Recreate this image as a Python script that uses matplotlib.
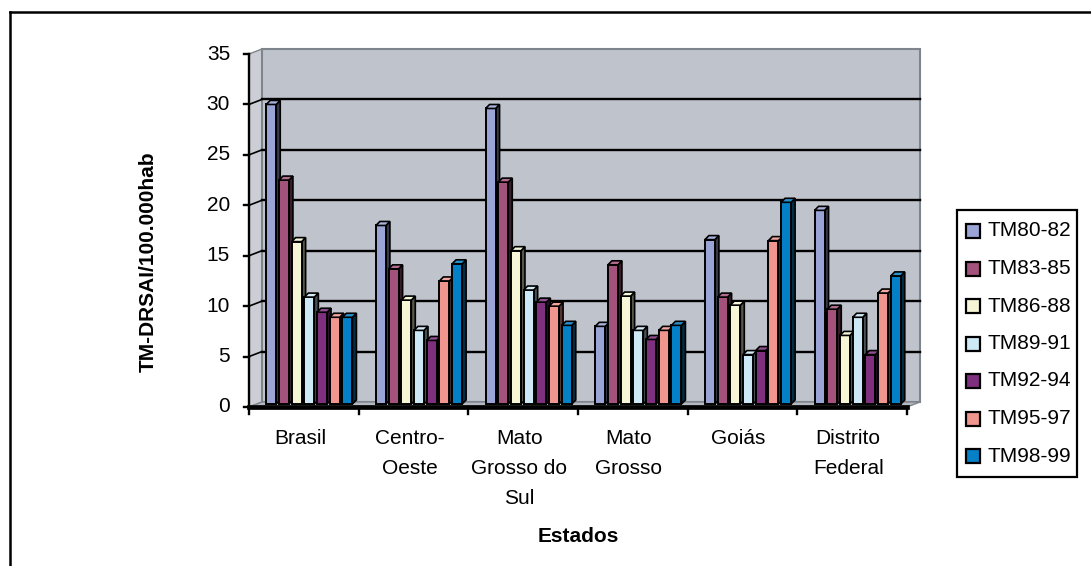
import matplotlib
matplotlib.use("Agg")
import matplotlib.pyplot as plt
from matplotlib.patches import Polygon, Rectangle
from matplotlib.lines import Line2D
from matplotlib.colors import to_rgb

plt.rcParams['font.family'] = ['Liberation Sans', 'DejaVu Sans']

# ---- data ----
estados = ["Brasil", "Centro-\nOeste", "Mato\nGrosso do\nSul", "Mato\nGrosso",
           "Goiás", "Distrito\nFederal"]
periodos = ["TM80-82", "TM83-85", "TM86-88", "TM89-91", "TM92-94", "TM95-97", "TM98-99"]
tm80_82 = [29.7, 17.7, 29.3, 7.7, 16.3, 19.2]
tm83_85 = [22.2, 13.4, 22.0, 13.8, 10.6, 9.4]
tm86_88 = [16.1, 10.3, 15.2, 10.7, 9.8, 6.8]
tm89_91 = [10.6, 7.3, 11.3, 7.3, 4.9, 8.6]
tm92_94 = [9.1, 6.3, 10.1, 6.4, 5.3, 4.9]
tm95_97 = [8.6, 12.2, 9.7, 7.3, 16.2, 11.0]
tm98_99 = [8.6, 13.9, 7.8, 7.8, 20.0, 12.7]
series = [tm80_82, tm83_85, tm86_88, tm89_91, tm92_94, tm95_97, tm98_99]
y_ticks = [0, 5, 10, 15, 20, 25, 30, 35]

colors = ["#9AA5D6", "#A3527B", "#F6F5D6", "#CDE9F5", "#7E2F7E", "#F0968F", "#0480C6"]
wall_color = "#BFC3CB"
wall_edge = "#7F858D"
FS = 15

# ---- figure ----
W, H = 1091, 566
fig = plt.figure(figsize=(W / 100, H / 100), dpi=100)
ax = fig.add_axes([249 / W, 1 - 407 / H, (907 - 249) / W, (407 - 54) / H])
ax.set_xlim(0, len(estados))
ax.set_ylim(0, 35)
ax.axis('off')

# pixel -> data unit conversion
p0 = ax.transData.transform((0, 0))
p1 = ax.transData.transform((1, 1))
sx, sy = p1[0] - p0[0], p1[1] - p0[1]


def px(dx=0.0, dy=0.0):
    return dx / sx, dy / sy


n_cat = len(estados)
ymax = y_ticks[-1]
wdx, wdy = px(13, 5)

# side wall, back wall, floor
ax.add_patch(Polygon([(0, 0), (wdx, wdy), (wdx, ymax + wdy), (0, ymax)],
                     closed=True, fc="#CBCED4", ec=wall_edge, lw=1.0, clip_on=False, zorder=1))
ax.add_patch(Polygon([(wdx, wdy), (n_cat + wdx, wdy), (n_cat + wdx, ymax + wdy), (wdx, ymax + wdy)],
                     closed=True, fc=wall_color, ec=wall_edge, lw=1.5, clip_on=False, zorder=1))
ax.add_patch(Polygon([(0, 0), (n_cat, 0), (n_cat + wdx, wdy), (wdx, wdy)],
                     closed=True, fc="#B4B8C0", ec=wall_edge, lw=1.0, clip_on=False, zorder=2))

# gridlines on back and side wall
for v in y_ticks[1:-1]:
    ax.add_line(Line2D([wdx, n_cat + wdx], [v + wdy, v + wdy], color="black", lw=1.7,
                       clip_on=False, zorder=2))
    ax.add_line(Line2D([0, wdx], [v, v + wdy], color="black", lw=1.2, clip_on=False, zorder=2))


def lighten(c, f):
    r, g, b = to_rgb(c)
    return (r + (1 - r) * f, g + (1 - g) * f, b + (1 - b) * f)


def darken(c, f):
    r, g, b = to_rgb(c)
    return (r * f, g * f, b * f)


# 3D-looking columns
pitch = 12.7
bw = 10.0
bar_shift = 5.5
base_dy = 3.0
cdx, cdy = px(4, 4)
w_d, _ = px(bw, 0)
_, base = px(0, base_dy)
n_ser = len(series)
for g in range(n_cat):
    for i, (vals, col) in enumerate(zip(series, colors)):
        v = vals[g]
        cx = g + 0.5 + px(bar_shift + (i - (n_ser - 1) / 2) * pitch)[0]
        x0 = cx - w_d / 2
        x1 = x0 + w_d
        top = v + base
        ax.add_patch(Polygon([(x1, base), (x1 + cdx, base + cdy), (x1 + cdx, top + cdy), (x1, top)],
                             closed=True, fc=darken(col, 0.35), ec="black", lw=1.2,
                             clip_on=False, zorder=3))
        ax.add_patch(Polygon([(x0, base), (x1, base), (x1, top), (x0, top)],
                             closed=True, fc=col, ec="black", lw=1.4, clip_on=False, zorder=3))
        ax.add_patch(Polygon([(x0, top), (x1, top), (x1 + cdx, top + cdy), (x0 + cdx, top + cdy)],
                             closed=True, fc=lighten(col, 0.15), ec="black", lw=1.2,
                             clip_on=False, zorder=3))

# axes lines and ticks
tlx, _ = px(5, 0)
_, tly = px(0, 7)
ax.add_line(Line2D([0, 0], [0, ymax], color="black", lw=1.7, clip_on=False, zorder=5))
ax.add_line(Line2D([0, n_cat], [0, 0], color="black", lw=3.4, clip_on=False, zorder=5))
for v in y_ticks:
    ax.add_line(Line2D([-tlx, 0], [v, v], color="black", lw=1.7, clip_on=False, zorder=5))
    ax.text(-px(19)[0], v, str(v), ha="right", va="center", fontsize=FS, clip_on=False)
for g in range(n_cat + 1):
    ax.add_line(Line2D([g, g], [0, -tly], color="black", lw=1.7, clip_on=False, zorder=5))

for g, name in enumerate(estados):
    ax.text(g + 0.5 - px(4)[0], -px(0, 22)[1], name, ha="center", va="top", fontsize=FS,
            linespacing=1.75, clip_on=False)

# titles
fig.text(148 / W, 1 - 262 / H, "TM-DRSAI/100.000hab", rotation=90, ha="center", va="center",
         fontsize=FS, fontweight="bold")
fig.text(578 / W, 1 - 536 / H, "Estados", ha="center", va="center", fontsize=FS,
         fontweight="bold")

# legend
fig.add_artist(Rectangle((957 / W, 1 - 477 / H), 120 / W, 267 / H, transform=fig.transFigure,
                         fc="white", ec="black", lw=1.6))
for i, (lab, col) in enumerate(zip(periodos, colors)):
    yc = 231 + 37.5 * i
    fig.add_artist(Rectangle((966 / W, 1 - (yc + 7) / H), 14 / W, 14 / H,
                             transform=fig.transFigure, fc=col, ec="black", lw=1.6))
    fig.text(987 / W, 1 - yc / H, lab, ha="left", va="center", fontsize=FS)

# outer frame
fig.add_artist(Line2D([10 / W, 10 / W], [0, 1 - 12 / H], transform=fig.transFigure,
                      color="black", lw=1.8))
fig.add_artist(Line2D([10 / W, 1], [1 - 12 / H, 1 - 12 / H], transform=fig.transFigure,
                      color="black", lw=1.8))

fig.savefig("out.png", dpi=100)
